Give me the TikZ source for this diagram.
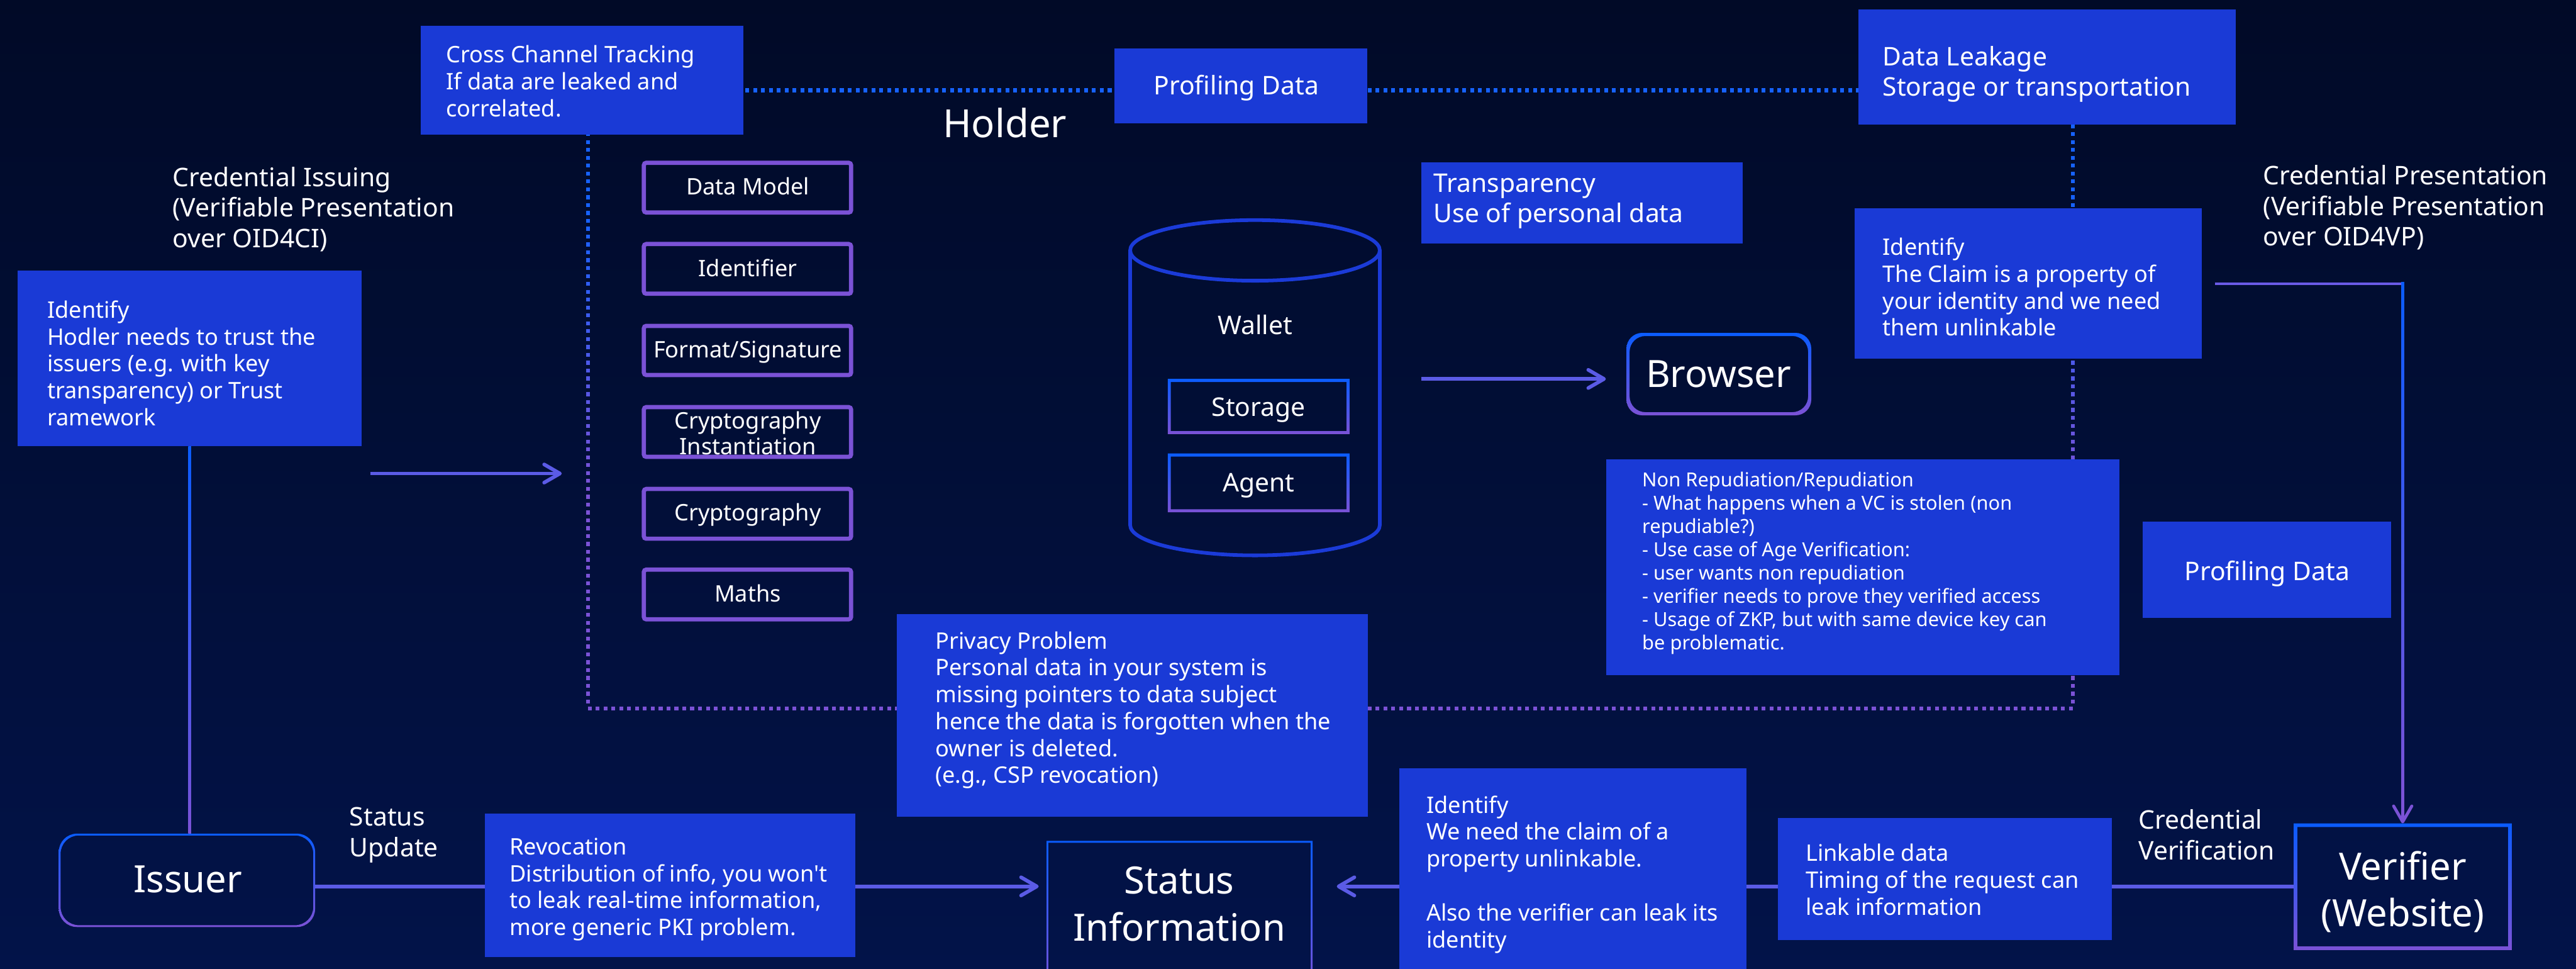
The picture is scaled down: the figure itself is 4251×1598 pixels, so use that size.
\documentclass[tikz,border=0pt]{standalone}
\usepackage{fontspec}
\setmainfont{Noto Sans}
\usetikzlibrary{arrows.meta,calc,fit}
\definecolor{bgtop}{HTML}{010A27}
\definecolor{bgbot}{HTML}{021349}
\definecolor{boxblue}{HTML}{1A3AD6}
\definecolor{connc}{HTML}{5B5BE6}
\definecolor{hcol}{HTML}{6A5AE6}
\definecolor{dblue}{HTML}{1662FF}
\definecolor{dpurple}{HTML}{7B52D6}
\definecolor{gblue}{HTML}{0A5CFF}
\definecolor{cylc}{HTML}{1B3BD8}
\newcommand\gradframe[3]{% node name, width, radius
  \shade[top color=gblue, bottom color=dpurple, even odd rule, rounded corners=#3]
    (#1.north west) rectangle (#1.south east)
    ([xshift=#2,yshift=-#2]#1.north west) rectangle ([xshift=-#2,yshift=#2]#1.south east);
}
\begin{document}
\begin{tikzpicture}[x=0.25pt,y=-0.25pt,
  every node/.style={text=white, inner sep=0pt, outer sep=0pt},
  note/.style={fill=boxblue, draw=none},
  frame/.style={draw=none},
  sm/.style={font=\fontsize{9.375pt}{11.1pt}\selectfont, align=left, anchor=base west},
  md/.style={font=\fontsize{10.6pt}{12.5pt}\selectfont, align=left, anchor=base west},
  mdc/.style={font=\fontsize{10.6pt}{12.5pt}\selectfont, align=center, anchor=base},
  smc/.style={font=\fontsize{9.375pt}{10.8pt}\selectfont, align=center, anchor=base},
  lg/.style={font=\fontsize{15.5pt}{19.5pt}\selectfont, align=center, anchor=base},
  xs/.style={font=\fontsize{8pt}{9.6pt}\selectfont, align=left, anchor=base west},
  conn/.style={draw=connc, line width=1.5pt},
  tip/.style={-{Straight Barb[length=6.5pt,width=7.5pt,round]}},
  layerbox/.style={draw=dpurple, line width=1.75pt, rounded corners=1pt},
]
\useasboundingbox (0,0) rectangle (4251,1598);
\clip (0,0) rectangle (4251,1598);
\shade[top color=bgtop, bottom color=bgbot] (0,0) rectangle (4251,1598);

% ---- dotted holder frame ----
\draw[dblue, line width=1.6pt, dash pattern=on 1.6pt off 1.65pt] (970,149) -- (3421,149);
\draw[dpurple, line width=1.6pt, dash pattern=on 1.6pt off 1.65pt] (970,1169) -- (3424,1169);
\foreach \i in {0,...,77} {
  \pgfmathsetmacro\yy{153+13*\i}
  \pgfmathtruncatemacro\pp{min(100,max(0,(\yy-350)/4.5))}
  \fill[dpurple!\pp!dblue] (966.8,\yy) rectangle (973.2,\yy+6.5);
  \fill[dpurple!\pp!dblue] (3417.8,\yy) rectangle (3424.2,\yy+6.5);
}

% ---- outline nodes ----
\node[frame, fit={(97,1375) (520,1529)}] (issuer) {};
\node[frame, fit={(1727,1387) (2166,1640)}] (status) {};
\node[frame, fit={(3785,1358) (4145,1567)}] (verifier) {};
\node[frame, fit={(2684,549) (2989,685)}] (browser) {};
\node[frame, fit={(1927,625) (2227,716)}] (storage) {};
\node[frame, fit={(1927,748) (2227,845)}] (agent) {};

% ---- note boxes ----
\node[note, fit={(694,43) (1227,222)}] (cct) {};
\node[note, fit={(1839,80) (2256,203)}] (proft) {};
\node[note, fit={(3067,16) (3689,205)}] (leak) {};
\node[note, fit={(2346,268) (2876,402)}] (transp) {};
\node[note, fit={(3061,344) (3633,592)}] (idr) {};
\node[note, fit={(29,446) (597,736)}] (idl) {};
\node[note, fit={(2651,758) (3497,1114)}] (nonrep) {};
\node[note, fit={(3536,860) (3946,1019)}] (profr) {};
\node[note, fit={(1480,1013) (2257,1347)}] (privacy) {};

% ---- connectors (behind boxes that they pass) ----
\coordinate (lineY) at (0,1462);
\draw[conn, tip, shorten >=3.25pt] (issuer.east |- lineY) -- (status.west |- lineY);
\draw[conn, tip, shorten >=10pt] (verifier.west |- lineY) -- (status.east |- lineY);

\node[note, fit={(800,1342) (1411,1579)}] (revoc) {};
\node[note, fit={(2309,1267) (2882,1640)}] (idb) {};
\node[note, fit={(2934,1349) (3485,1550)}] (link) {};

% identify (left) to issuer
\path (idl.south) coordinate (s1) (idl.south |- issuer.north) coordinate (e1);
\shade[top color=gblue, bottom color=dpurple] ([xshift=-0.6pt]s1) rectangle ([xshift=0.6pt]e1);

% identify (right) to verifier
\path ([xshift=5.5pt]idr.east) coordinate (s2) (idr.east -| verifier.north) coordinate (c2)
      ([yshift=12pt]verifier.north) coordinate (e2);
\draw[hcol, line width=1.25pt] (s2) -- ([xshift=0.6pt]c2);
\shade[top color=gblue, bottom color=dpurple] ([xshift=-0.6pt,yshift=0.6pt]c2) rectangle ([xshift=0.6pt]e2);
\draw[dpurple, line width=1.25pt, tip] ([yshift=0.5pt]e2) -- (verifier.north);

% free arrows
\coordinate (a1) at (611,781);
\coordinate (a2) at (927,781);
\draw[conn, tip] (a1) -- (a2);
\coordinate (wb1) at (2346,625);
\draw[conn, tip, shorten >=8.5pt] (wb1) -- (browser.west |- wb1);

% ---- gradient frames ----
\gradframe{issuer}{0.75pt}{7.5pt}
\gradframe{status}{0.75pt}{0pt}
\gradframe{verifier}{1.5pt}{0pt}
\gradframe{browser}{1.3pt}{6.5pt}
\gradframe{storage}{1.25pt}{0pt}
\gradframe{agent}{1.25pt}{0pt}

% ---- wallet cylinder ----
\draw[cylc, line width=1.5pt] (2071,413) ellipse [x radius=206, y radius=50];
\draw[cylc, line width=1.5pt] (1865,413) -- (1865,866) arc[start angle=180, end angle=0, x radius=206, y radius=50] -- (2277,413);

% ---- layer boxes ----
\foreach \nm/\ya/\yb in {ldm/265/354, lid/399/488, lfs/534/622, lci/668/757, lcr/803/892, lma/936/1025} {
  \node[fit={(1059,\ya) (1408,\yb)}] (\nm) {};
  \draw[layerbox] ([xshift=0.875pt,yshift=-0.875pt]\nm.north west) rectangle ([xshift=-0.875pt,yshift=0.875pt]\nm.south east);
}

% ---- texts (anchor = baseline of the last line) ----
\node[sm] (tcct) at (736,192) {Cross Channel Tracking\\If data are leaked and\\correlated.};
\node[mdc] (tproft) at (2040,156) {Profiling Data};
\node[md] (tleak) at (3107,158) {Data Leakage\\Storage or transportation};
\node[font=\fontsize{16pt}{19pt}\selectfont, anchor=base west] (tholder) at (1556,227) {Holder};
\node[md] (tci) at (285,408) {Credential Issuing\\(Verifiable Presentation\\over OID4CI)};
\node[md] (ttransp) at (2366,367) {Transparency\\Use of personal data};
\node[md] (tcp) at (3735,405) {Credential Presentation\\(Verifiable Presentation\\over OID4VP)};
\node[sm] (tidr) at (3107,554) {Identify\\The Claim is a property of\\your identity and we need\\them unlinkable};
\node[sm] (tidl) at (78,702) {Identify\\Hodler needs to trust the\\issuers (e.g. with key\\transparency) or Trust\\ramework};

\node[smc] (tldm) at (1234,321) {Data Model};
\node[smc] (tlid) at (1234,456) {Identifier};
\node[smc] (tlfs) at (1234,590) {Format/Signature};
\node[smc] (tlci) at (1234,750) {Cryptography\\Instantiation};
\node[smc] (tlcr) at (1234,859) {Cryptography};
\node[smc] (tlma) at (1234,993) {Maths};

\node[mdc] (twallet) at (2071,552) {Wallet};
\node[mdc] (tstorage) at (2077,686) {Storage};
\node[mdc] (tagent) at (2077,811) {Agent};

\node[lg] (tbrowser) at (2836,639) {Browser};
\node[xs] (tnonrep) at (2710,1072) {Non Repudiation/Repudiation\\- What happens when a VC is stolen (non\\repudiable?)\\- Use case of Age Verification:\\- user wants non repudiation\\- verifier needs to prove they verified access\\- Usage of ZKP, but with same device key can\\be problematic.};
\node[mdc] (tprofr) at (3741,957) {Profiling Data};
\node[sm] (tprivacy) at (1544,1292) {Privacy Problem\\Personal data in your system is\\missing pointers to data subject\\hence the data is forgotten when the\\owner is deleted.\\(e.g., CSP revocation)};
\node[md, font=\fontsize{10.6pt}{12.7pt}\selectfont] (tsu) at (577,1413) {Status\\Update};
\node[sm] (trevoc) at (841,1543) {Revocation\\Distribution of info, you won\textquotesingle t\\to leak real-time information,\\more generic PKI problem.};
\node[lg] (tissuer) at (310,1472) {Issuer};
\node[lg] (tstatus) at (1946,1552) {Status\\Information};
\node[sm] (tidb) at (2354,1563) {Identify\\We need the claim of a\\property unlinkable.\\[11.1pt]Also the verifier can leak its\\identity};
\node[sm] (tlink) at (2980,1509) {Linkable data\\Timing of the request can\\leak information};
\node[md, font=\fontsize{10.6pt}{12.7pt}\selectfont] (tcv) at (3529,1418) {Credential\\Verification};
\node[lg, font=\fontsize{15.5pt}{19.25pt}\selectfont] (tverifier) at (3965,1528) {Verifier\\(Website)};
\end{tikzpicture}
\end{document}
